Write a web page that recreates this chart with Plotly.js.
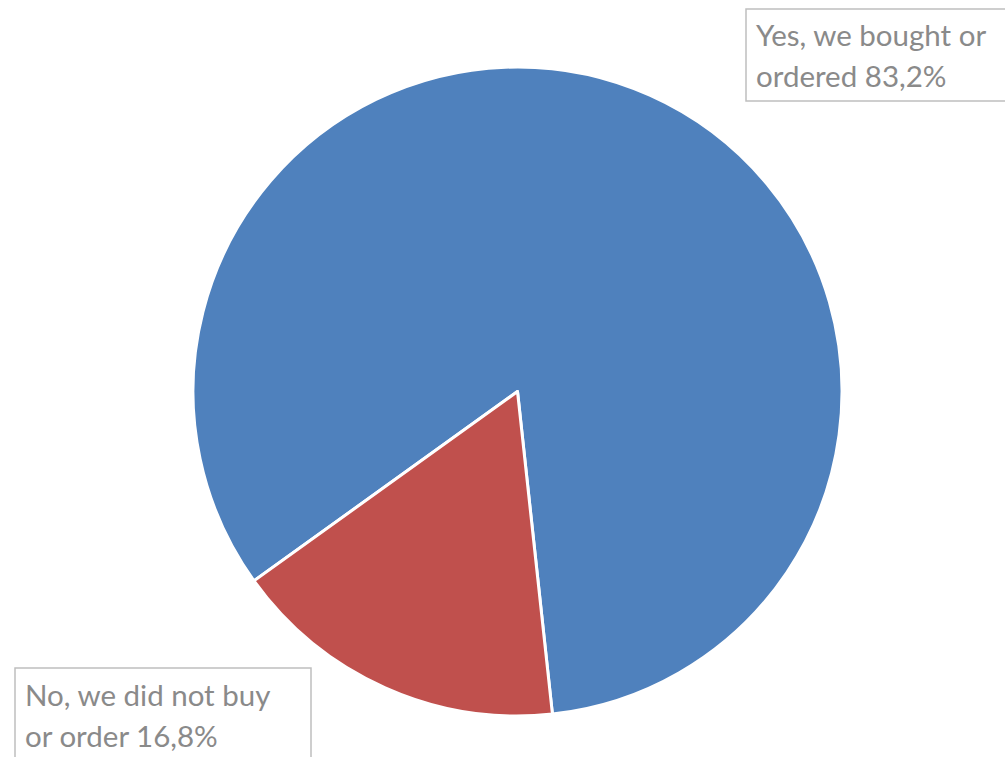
<!DOCTYPE html>
<html><head><meta charset="utf-8">
<script src="https://cdn.plot.ly/plotly-3.0.1.min.js"></script>
<style>html,body{margin:0;padding:0;background:#fff;}#chart{width:1005px;height:757px;}</style>
</head><body><div id="chart"></div>
<script>
var labels = ["Yes, we bought or\nordered", "No, we did not buy\nor order"];
var values = [83.2, 16.8];
var colors = ["#4F81BD", "#C0504D"];

function fmt(v){ return v.toFixed(1).replace('.', ',') + '%'; }

var trace = {
  type: 'pie',
  labels: labels.map(function(l){return l.replace('\n',' ');}),
  values: values,
  sort: false,
  direction: 'clockwise',
  rotation: 234.3,
  textinfo: 'none',
  hoverinfo: 'label+percent',
  marker: {colors: colors, line: {color: '#ffffff', width: 3}},
  domain: {x: [193/1005, 842/1005], y: [(757-716)/757, (757-67)/757]},
  showlegend: false
};

// label boxes (paper coords)
var boxes = [
  {x0: 746, y0: 9, x1: 1010, y1: 101, tx: 754, ty: 35},
  {x0: 15, y0: 668, x1: 311, y1: 770, tx: 23, ty: 694}
];
var shapes = [], annotations = [];
boxes.forEach(function(b, i){
  shapes.push({type:'rect', xref:'paper', yref:'paper',
    x0: b.x0/1005, x1: b.x1/1005, y0: 1-b.y1/757, y1: 1-b.y0/757,
    line:{color:'#BFBFBF', width:1.5}, fillcolor:'rgba(255,255,255,0)'});
  var lines = labels[i].split('\n');
  lines[lines.length-1] += ' ' + fmt(values[i]);
  lines.forEach(function(t, j){
    annotations.push({xref:'paper', yref:'paper', x: b.tx/1005, y: 1-(b.ty + j*41)/757,
      xanchor:'left', yanchor:'middle', showarrow:false, text:t,
      font:{family:'Lato, sans-serif', size:29.5, color:'#8A8A8A'}});
  });
});

var layout = {
  width: 1005, height: 757,
  margin: {l:0, r:0, t:0, b:0},
  paper_bgcolor: '#ffffff',
  shapes: shapes,
  annotations: annotations
};
Plotly.newPlot('chart', [trace], layout, {displayModeBar:false});
</script></body></html>
